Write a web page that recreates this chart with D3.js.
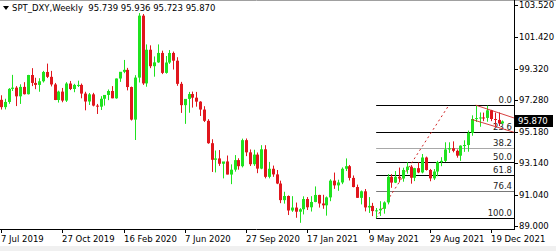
<!DOCTYPE html>
<html>
<head>
<meta charset="utf-8">
<script src="https://cdn.jsdelivr.net/npm/d3@7"></script>
<style>
  body { margin: 0; background: #fff; }
  svg { display: block; font-family: Tahoma, "DejaVu Sans", sans-serif; }
</style>
</head>
<body>
<svg id="chart"></svg>
<script>
// weekly bars, first one = week of 7 Jul 2019
var opens = [97.29,96.81,97.15,98.01,98.09,97.52,98.14,97.66,98.92,98.40,98.27,98.51,99.12,98.80,98.30,97.28,97.83,97.24,98.36,98.00,98.27,98.27,97.70,97.18,97.65,96.91,
  96.84,97.36,97.61,97.87,97.39,98.69,99.13,99.26,98.13,95.99,98.75,102.82,98.37,100.58,99.50,99.75,100.37,99.06,99.74,100.37,99.86,98.34,96.94,97.35,97.67,97.43,97.17,96.65,95.91,94.44,93.35,93.44,93.09,93.24,92.38,92.70,93.33,92.93,94.64,93.84,93.06,93.69,92.77,94.04,92.23,92.76,92.39,91.79,90.70,90.97,90.02,90.21,
  89.94,90.10,90.77,90.23,90.58,91.04,90.48,90.36,90.88,91.98,91.67,91.86,92.76,92.93,92.16,91.56,90.85,91.28,90.22,90.32,89.98,90.03,90.13,90.55,92.23,91.85,92.23,92.12,92.68,92.90,92.17,92.80,92.52,93.50,92.68,92.13,92.58,93.20,93.28,94.03,94.11,93.94,93.62,94.28,94.32,95.12,96.03,96.09,96.13,96.10,96.60,96.03,95.97,95.739];
var highs = [97.59,97.36,98.06,98.93,98.19,98.31,98.45,98.93,99.37,98.74,98.71,99.19,99.67,99.19,98.40,97.89,98.07,98.45,98.53,98.34,98.55,98.36,97.82,97.74,97.75,97.02,
  97.53,97.60,97.97,98.19,98.69,99.12,99.91,99.39,98.16,98.91,102.99,102.93,100.93,100.87,100.14,100.93,100.52,100.17,100.56,100.46,100.09,98.47,97.24,97.81,97.83,97.81,97.20,96.87,96.02,94.70,93.96,93.99,93.20,93.63,93.05,93.66,93.45,94.74,94.75,94.03,94.01,93.83,94.31,94.31,93.21,92.97,92.68,91.98,91.25,91.01,90.96,90.54,
  90.17,90.95,90.90,90.96,91.60,91.05,91.05,90.94,92.07,92.51,92.04,92.85,93.44,93.01,92.32,91.72,91.33,91.43,90.90,90.52,90.18,90.63,90.62,92.41,92.41,92.61,92.84,92.83,93.19,93.00,92.82,93.18,93.73,93.56,92.75,92.74,93.28,93.52,94.50,94.50,94.56,94.03,94.30,94.63,95.27,96.27,96.94,96.46,96.45,96.91,96.63,96.45,96.46,95.936];
var lows = [96.65,96.66,97.03,97.87,96.88,97.02,97.64,97.64,98.19,97.99,97.82,98.43,98.72,98.17,97.27,97.11,97.13,97.15,97.93,97.79,98.13,97.39,96.60,96.95,96.86,96.36,
  96.62,96.91,97.27,97.39,97.36,98.47,99.04,97.91,95.93,94.65,98.43,98.27,98.15,99.37,98.81,99.72,98.98,99.01,99.65,99.28,98.21,96.43,95.71,96.44,96.78,96.84,96.23,95.83,94.40,92.55,92.52,92.95,92.13,92.39,91.75,92.57,92.70,92.85,93.59,92.94,92.95,92.47,92.73,92.13,92.13,92.23,91.75,90.50,90.47,89.72,89.93,89.54,
  89.21,89.76,90.05,89.95,90.56,90.21,90.13,89.68,90.63,91.44,91.31,91.75,92.61,91.99,91.54,90.85,90.42,89.96,89.86,89.65,89.53,89.66,89.81,90.42,91.51,91.82,91.87,91.91,92.44,91.78,91.95,92.47,92.46,92.64,91.94,92.02,92.27,92.93,93.20,93.80,93.84,93.49,93.28,93.87,93.88,94.93,95.84,95.52,95.89,95.85,95.89,95.54,95.57,95.723];
var closes = [96.81,97.15,98.01,98.09,97.52,98.14,97.66,98.92,98.40,98.27,98.51,99.12,98.80,98.30,97.28,97.83,97.24,98.36,98.00,98.27,98.27,97.70,97.18,97.65,96.91,96.84,
  97.36,97.61,97.87,97.39,98.69,99.13,99.26,98.13,95.99,98.75,102.82,98.37,100.58,99.50,99.75,100.37,99.06,99.74,100.37,99.86,98.34,96.94,97.35,97.67,97.43,97.17,96.65,95.91,94.44,93.35,93.44,93.09,93.24,92.38,92.70,93.33,92.93,94.64,93.84,93.06,93.69,92.77,94.04,92.23,92.76,92.39,91.79,90.70,90.97,90.02,90.21,89.94,
  90.10,90.77,90.23,90.58,91.04,90.48,90.36,90.88,91.98,91.67,91.86,92.76,92.93,92.16,91.56,90.85,91.28,90.22,90.32,89.98,90.03,90.13,90.55,92.23,91.85,92.23,92.12,92.68,92.90,92.17,92.80,92.52,93.50,92.68,92.13,92.58,93.20,93.28,94.03,94.11,93.94,93.62,94.28,94.32,95.12,96.03,96.09,96.13,96.10,96.60,96.03,95.97,95.74,95.870];

var priceTicks = [89.000, 91.040, 93.140, 95.180, 97.280, 99.320, 101.420, 103.520];
var dateTicks = [[0,"7 Jul 2019"],[16,"27 Oct 2019"],[32,"16 Feb 2020"],[48,"7 Jun 2020"],[64,"27 Sep 2020"],
  [80,"17 Jan 2021"],[96,"9 May 2021"],[112,"29 Aug 2021"],[128,"19 Dec 2021"]];

// fibonacci retracement anchors (bar index, price)
var fibFrom = [98, 89.53], fibTo = [117, 96.94];
var fibLevels = [0, 23.6, 38.2, 50.0, 61.8, 76.4, 100.0];
var fibStart = 98;
// descending channel lines (bar index, price)
var chanUpper = [[124, 96.94], [134, 96.10]];
var chanLower = [[123, 96.00], [134, 95.16]];

var header = "SPT_DXY,Weekly  95.739 95.936 95.723 95.870";
var lastPrice = 95.870;

var width = 556, height = 251;
var axisX = 514, axisY = 229;

var svg = d3.select("#chart").attr("width", width).attr("height", height);

var x = d3.scaleLinear().domain([0, 128]).range([1, 491]);
var y = d3.scaleLinear().domain([89.0, 103.52]).range([226, 5]);

svg.append("rect").attr("x", 0).attr("y", 246).attr("width", width).attr("height", 5).attr("fill", "#f0f0f0");
svg.append("line").attr("x1", 0).attr("x2", width).attr("y1", 0.5).attr("y2", 0.5).attr("stroke", "#a0a0a0");

// fib levels
var fibPrice = l => fibTo[1] - (fibTo[1] - fibFrom[1]) * l / 100;
var fg = svg.append("g");
fg.selectAll("line").data(fibLevels).join("line")
  .attr("x1", x(fibStart)).attr("x2", axisX)
  .attr("y1", d => Math.round(y(fibPrice(d))) + 0.5)
  .attr("y2", d => Math.round(y(fibPrice(d))) + 0.5)
  .attr("stroke", d => (d == 38.2 ? "#a8a8a8" : d == 76.4 ? "#787878" : "#000"));

svg.append("line")
  .attr("x1", x(fibFrom[0])).attr("y1", y(fibFrom[1]))
  .attr("x2", x(fibTo[0])).attr("y2", y(fibTo[1]))
  .attr("stroke", "#d02020").attr("stroke-dasharray", "2,3");

// candles
var bars = d3.range(closes.length).map(i => ({i: i, o: opens[i], h: highs[i], l: lows[i], c: closes[i]}));
var cg = svg.append("g").selectAll("g").data(bars).join("g")
  .attr("fill", d => d.c >= d.o ? "#1fe21f" : "#e0161d")
  .attr("stroke", d => d.c >= d.o ? "#1fe21f" : "#e0161d");
cg.append("line")
  .attr("x1", d => Math.round(x(d.i)) + 0.5).attr("x2", d => Math.round(x(d.i)) + 0.5)
  .attr("y1", d => y(d.h)).attr("y2", d => y(d.l));
cg.append("rect")
  .attr("stroke", "none")
  .attr("x", d => Math.round(x(d.i)) - 1)
  .attr("width", 3)
  .attr("y", d => y(Math.max(d.o, d.c)))
  .attr("height", d => Math.max(1, Math.abs(y(d.o) - y(d.c))));

// channel
[chanUpper, chanLower].forEach(c => {
  svg.append("line")
    .attr("x1", x(c[0][0])).attr("y1", y(c[0][1]))
    .attr("x2", Math.min(axisX, x(c[1][0]))).attr("y2", y(c[1][1]))
    .attr("stroke", "#d02020").attr("stroke-width", 1).attr("opacity", 0.85);
});

// fib labels
fg.selectAll("text").data(fibLevels).join("text")
  .attr("x", axisX - 2).attr("y", d => Math.round(y(fibPrice(d))) - 2)
  .attr("text-anchor", "end").attr("font-size", "8.5px").attr("fill", "#222")
  .text(d => d.toFixed(1));

// axes
svg.append("line").attr("x1", 0).attr("x2", axisX + 0.5).attr("y1", axisY + 0.5).attr("y2", axisY + 0.5).attr("stroke", "#000");
svg.append("line").attr("x1", axisX + 0.5).attr("x2", axisX + 0.5).attr("y1", 0).attr("y2", axisY + 1).attr("stroke", "#000");

var yg = svg.append("g").selectAll("g").data(priceTicks).join("g")
  .attr("transform", d => `translate(0,${Math.round(y(d)) + 0.5})`);
yg.append("line").attr("x1", axisX).attr("x2", axisX + 4).attr("stroke", "#000");
yg.append("text").attr("x", 519).attr("dy", "0.35em").attr("font-size", "8.5px").attr("fill", "#000")
  .text(d => d.toFixed(3));

var xg = svg.append("g").selectAll("g").data(dateTicks).join("g")
  .attr("transform", d => `translate(${Math.round(x(d[0])) + 0.5},${axisY})`);
xg.append("line").attr("y1", 0).attr("y2", 4).attr("stroke", "#000");
xg.append("text").attr("x", -0.5).attr("y", 13).attr("font-size", "8.5px").attr("fill", "#000")
  .text(d => d[1]);

// last price tag
svg.append("rect").attr("x", 515).attr("y", Math.round(y(lastPrice)) - 6).attr("width", 38).attr("height", 12).attr("fill", "#000");
svg.append("text").attr("x", 518).attr("y", y(lastPrice)).attr("dy", "0.35em")
  .attr("font-size", "8.5px").attr("fill", "#fff").text(lastPrice.toFixed(3));

// header
svg.append("path").attr("d", "M3,6 L9,6 L6,10 Z").attr("fill", "#000");
svg.append("text").attr("x", 12).attr("y", 11).attr("font-size", "8.5px").attr("fill", "#000")
  .attr("xml:space", "preserve").style("white-space", "pre").text(header);
</script>
</body>
</html>
